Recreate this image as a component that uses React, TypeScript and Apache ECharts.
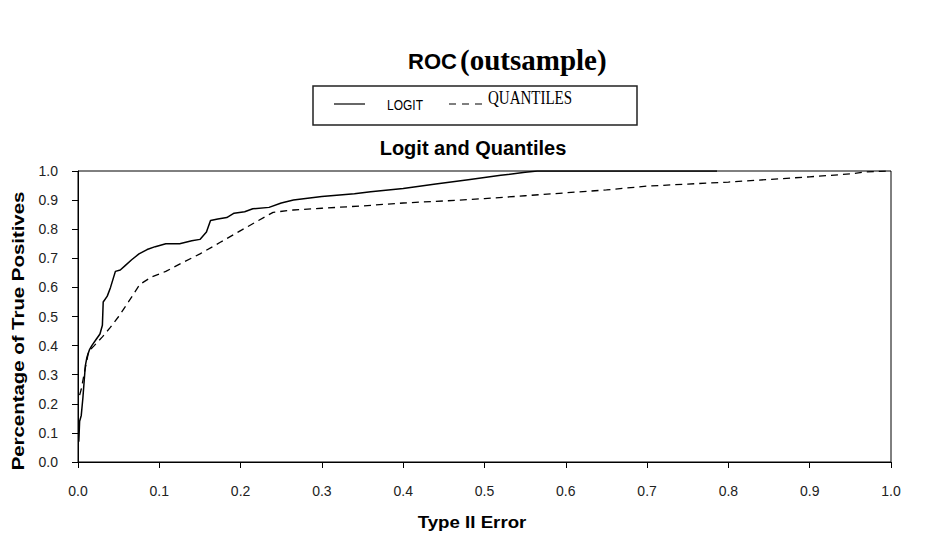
import React, { useEffect, useRef } from "react";
import * as echarts from "echarts";

// Logit ROC curve: [Type II error, share of true positives]
const logitPoints: [number, number][] = [
  [0.001, 0.07], [0.002, 0.14], [0.004, 0.16], [0.006, 0.22], [0.009, 0.33],
  [0.011, 0.36], [0.014, 0.385], [0.017, 0.4], [0.022, 0.42], [0.027, 0.44],
  [0.03, 0.47], [0.031, 0.55], [0.036, 0.57], [0.04, 0.6], [0.046, 0.655],
  [0.052, 0.66], [0.058, 0.675], [0.066, 0.695], [0.075, 0.715], [0.085, 0.73],
  [0.095, 0.74], [0.108, 0.75], [0.125, 0.75], [0.14, 0.76], [0.15, 0.765],
  [0.158, 0.79], [0.163, 0.83], [0.172, 0.835], [0.183, 0.84], [0.192, 0.855],
  [0.205, 0.86], [0.215, 0.87], [0.235, 0.875], [0.25, 0.89], [0.265, 0.9],
  [0.3, 0.912], [0.34, 0.922], [0.36, 0.929], [0.4, 0.94], [0.44, 0.955],
  [0.48, 0.97], [0.52, 0.985], [0.55, 0.996], [0.565, 1.0], [0.786, 1.0],
];

// Quantiles ROC curve
const quantilePoints: [number, number][] = [
  [0.002, 0.23], [0.004, 0.25], [0.008, 0.31], [0.011, 0.35], [0.013, 0.38],
  [0.02, 0.4], [0.03, 0.43], [0.039, 0.46], [0.05, 0.5], [0.062, 0.55],
  [0.076, 0.61], [0.09, 0.635], [0.108, 0.655], [0.125, 0.68], [0.15, 0.715],
  [0.175, 0.755], [0.2, 0.795], [0.222, 0.83], [0.24, 0.858], [0.265, 0.866],
  [0.3, 0.872], [0.35, 0.88], [0.4, 0.89], [0.45, 0.897], [0.5, 0.905],
  [0.55, 0.915], [0.6, 0.925], [0.65, 0.935], [0.7, 0.948], [0.75, 0.955],
  [0.8, 0.962], [0.85, 0.971], [0.9, 0.98], [0.95, 0.99], [0.97, 0.997],
  [1.0, 1.0],
];

const seriesNames = ["LOGIT", "QUANTILES"];
const titleMain = "ROC";
const titleSub = "(outsample)";
const plotTitle = "Logit and Quantiles";
const xAxisName = "Type II Error";
const yAxisName = "Percentage of True Positives";
const axisMin = 0;
const axisMax = 1;
const axisStep = 0.1;

export default function App() {
  const ref = useRef<HTMLDivElement>(null);

  useEffect(() => {
    if (!ref.current) return;
    const chart = echarts.init(ref.current, undefined, { renderer: "svg" });
    const labelStyle = {
      fontFamily: "Arial, 'Liberation Sans', sans-serif",
      fontSize: 14,
      color: "#222",
    };
    chart.setOption({
      animation: false,
      backgroundColor: "#fff",
      grid: {
        left: 78,
        right: 36,
        top: 171,
        bottom: 73,
        show: true,
        borderColor: "#000",
        borderWidth: 1,
        backgroundColor: "transparent",
      },
      xAxis: {
        type: "value",
        min: axisMin,
        max: axisMax,
        interval: axisStep,
        axisLine: { show: true, lineStyle: { color: "#000", width: 1 } },
        axisTick: { show: true, length: 6, lineStyle: { color: "#000" } },
        splitLine: { show: false },
        axisLabel: {
          ...labelStyle,
          margin: 22,
          formatter: (v: number) => v.toFixed(1),
        },
      },
      yAxis: {
        type: "value",
        min: axisMin,
        max: axisMax,
        interval: axisStep,
        axisLine: { show: true, lineStyle: { color: "#000", width: 1 } },
        axisTick: { show: true, length: 6, lineStyle: { color: "#000" } },
        splitLine: { show: false },
        axisLabel: {
          ...labelStyle,
          margin: 20,
          formatter: (v: number) => v.toFixed(1),
        },
      },
      series: [
        {
          name: seriesNames[0],
          type: "line",
          data: logitPoints,
          showSymbol: false,
          lineStyle: { color: "#000", width: 1.5, type: "solid" },
        },
        {
          name: seriesNames[1],
          type: "line",
          data: quantilePoints,
          showSymbol: false,
          lineStyle: { color: "#000", width: 1.3, type: [7, 5] },
        },
      ],
      graphic: [
        {
          type: "text",
          x: 408,
          y: 61,
          style: {
            text: titleMain,
            font: "bold 22px Arial, 'Liberation Sans', sans-serif",
            fill: "#000",
            textVerticalAlign: "middle",
          },
        },
        {
          type: "text",
          x: 460,
          y: 60,
          style: {
            text: titleSub,
            font: "bold 29px 'Times New Roman', 'Liberation Serif', serif",
            fill: "#000",
            textVerticalAlign: "middle",
          },
        },
        {
          type: "rect",
          shape: { x: 313, y: 86, width: 324, height: 39 },
          style: { fill: "#fff", stroke: "#222", lineWidth: 1.5 },
        },
        {
          type: "line",
          shape: { x1: 334, y1: 104, x2: 365, y2: 104 },
          style: { stroke: "#000", lineWidth: 1.2 },
        },
        {
          type: "text",
          x: 387,
          y: 105,
          scaleY: 1.2,
          style: {
            text: seriesNames[0],
            font: "12px Arial, 'Liberation Sans', sans-serif",
            fill: "#000",
            textVerticalAlign: "middle",
          },
        },
        {
          type: "line",
          shape: { x1: 449, y1: 104, x2: 483, y2: 104 },
          style: { stroke: "#000", lineWidth: 1.2, lineDash: [7, 6] },
        },
        {
          type: "text",
          x: 488,
          y: 98,
          scaleY: 1.3,
          style: {
            text: seriesNames[1],
            font: "15px 'Times New Roman', 'Liberation Serif', serif",
            fill: "#000",
            textVerticalAlign: "middle",
          },
        },
        {
          type: "text",
          x: 473,
          y: 148,
          style: {
            text: plotTitle,
            font: "bold 20px Arial, 'Liberation Sans', sans-serif",
            fill: "#000",
            textAlign: "center",
            textVerticalAlign: "middle",
          },
        },
        {
          type: "text",
          x: 472,
          y: 522,
          scaleX: 1.1,
          style: {
            text: xAxisName,
            font: "bold 17px Arial, 'Liberation Sans', sans-serif",
            fill: "#000",
            textAlign: "center",
            textVerticalAlign: "middle",
          },
        },
        {
          type: "text",
          x: 18,
          y: 331,
          rotation: Math.PI / 2,
          scaleX: 1.2,
          style: {
            text: yAxisName,
            font: "bold 17px Arial, 'Liberation Sans', sans-serif",
            fill: "#000",
            textAlign: "center",
            textVerticalAlign: "middle",
          },
        },
      ],
    });
    return () => chart.dispose();
  }, []);

  return (
    <div
      ref={ref}
      style={{ position: "fixed", left: 0, top: 0, width: 927, height: 535 }}
    />
  );
}
